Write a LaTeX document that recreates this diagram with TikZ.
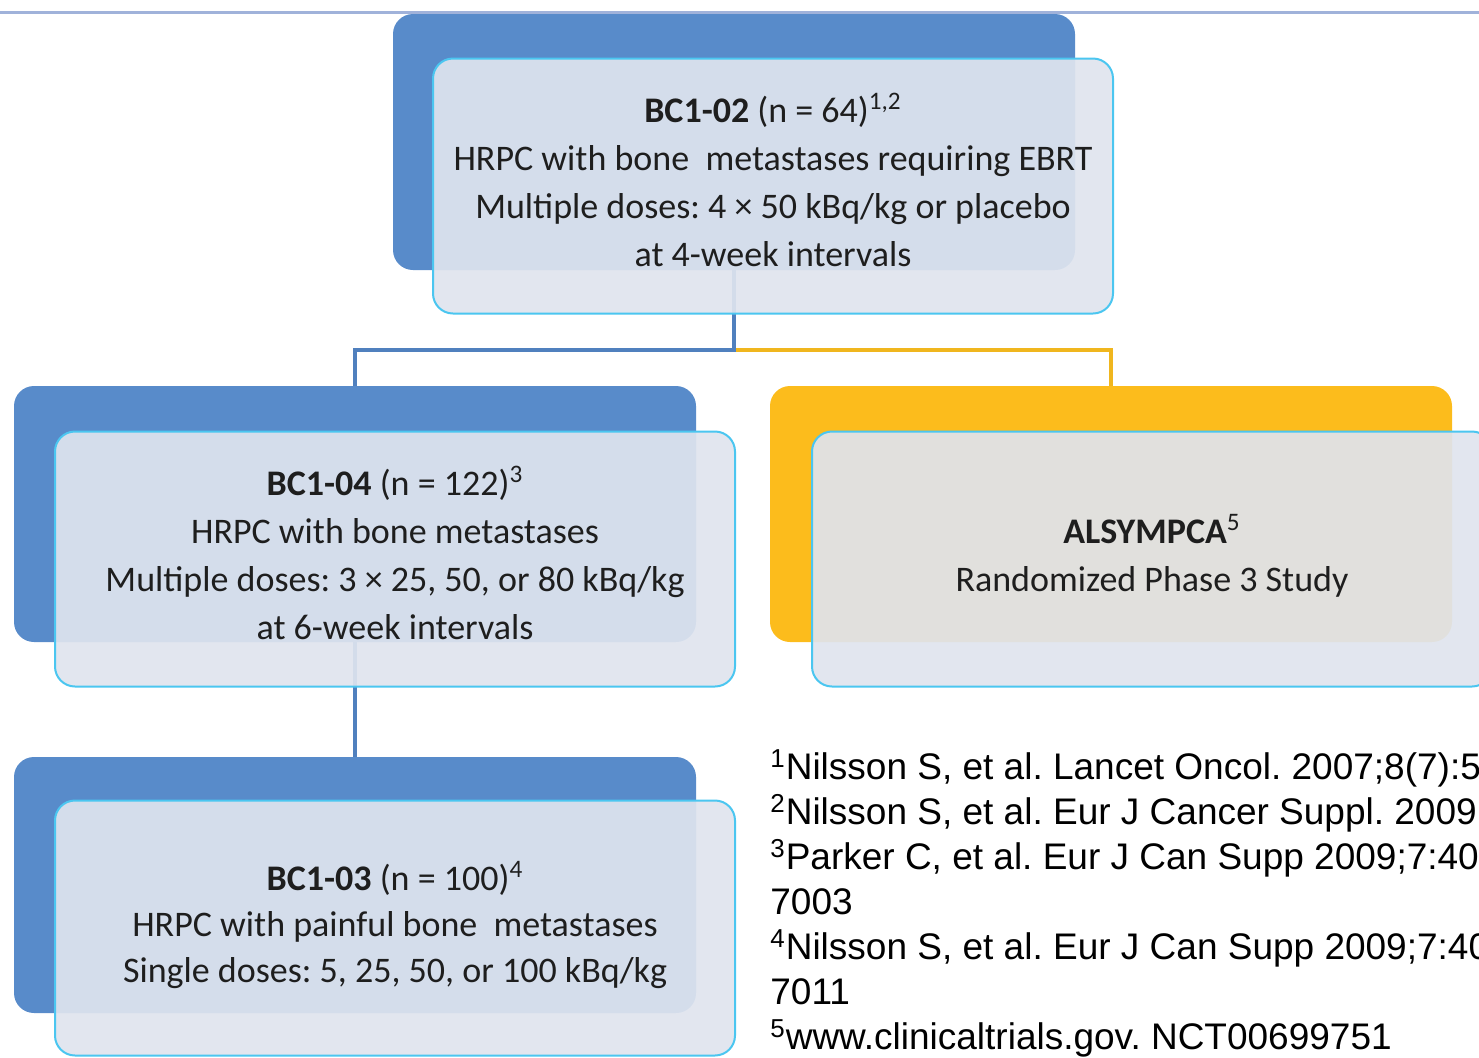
\documentclass[tikz,border=0pt]{standalone}
\usepackage{fontspec}
\setmainfont{Carlito}
\newfontfamily\reffont{Liberation Sans}
\usetikzlibrary{positioning}
\frenchspacing
\definecolor{backblue}{RGB}{88,139,202}
\definecolor{backorange}{RGB}{252,188,28}
\definecolor{frontfill}{RGB}{223,228,238}
\definecolor{frontdraw}{RGB}{75,198,240}
\definecolor{linkblue}{RGB}{80,128,190}
\definecolor{linkorange}{RGB}{240,182,30}
\definecolor{topline}{RGB}{160,178,218}
\definecolor{boxtext}{RGB}{30,30,30}
\tikzset{
    backbox/.style={rectangle, rounded corners=10pt, minimum width=341pt, minimum height=128pt, inner sep=0pt},
    blueback/.style={backbox, fill=backblue},
    orangeback/.style={backbox, fill=backorange},
    frontbox/.style={rectangle, rounded corners=10pt, minimum width=340pt, minimum height=127.5pt, draw=frontdraw, line width=1pt, fill=frontfill, fill opacity=0.92, text opacity=1, text=boxtext, align=center, font=\fontsize{18}{24}\selectfont, execute at end node={\rule[-6pt]{0pt}{6pt}}},
    link/.style={line width=2pt},
}

\begin{document}
\begin{tikzpicture}[x=0.5pt, y=-0.5pt]

    \useasboundingbox (0,0) rectangle (1479,1057);
    \clip (0,0) rectangle (1479,1057);

    % rule at the top
    \coordinate (ruleleft) at (0,12.5);
    \coordinate (ruleright) at (1479,12.5);
    \draw[topline, line width=1.5pt] (ruleleft) -- (ruleright);

    % back boxes
    \node[blueback] (bc02back) at (734,142) {};
    \node[blueback] (bc04back) at (355,514) {};
    \node[orangeback] (alsback) at (1111,514) {};
    \node[blueback] (bc03back) at (355,885) {};

    % links
    \coordinate (fork) at ([yshift=-40pt]bc02back.south);
    \draw[link, linkblue] (bc02back.south) -- (fork) -| (bc04back.north);
    \draw[link, linkorange] ([xshift=1pt]fork) -| (alsback.north);
    \draw[link, linkblue] (bc04back.south) -- (bc03back.north);

    % front boxes
    \node[frontbox] (bc02) at ([shift={(39,44)}]bc02back.center)
        {\textbf{BC1-02} (n = 64)\textsuperscript{1,2}\\
         HRPC with bone\ \ metastases requiring EBRT\\
         Multiple doses: 4 × 50 kBq/kg or placebo\\
         at 4-week intervals};
    \node[frontbox] (bc04) at ([shift={(40,45)}]bc04back.center)
        {\textbf{BC1-04} (n = 122)\textsuperscript{3}\\
         HRPC with bone metastases\\
         Multiple doses: 3 × 25, 50, or 80 kBq/kg\\
         at 6-week intervals};
    \node[frontbox] (als) at ([shift={(41,45)}]alsback.center)
        {\textbf{ALSYMPCA}\textsuperscript{5}\\
         Randomized Phase 3 Study};
    \node[frontbox, font=\fontsize{18}{23}\selectfont] (bc03) at ([shift={(40,43)}]bc03back.center)
        {\textbf{BC1-03} (n = 100)\textsuperscript{4}\\
         HRPC with painful bone\ \ metastases\\
         Single doses: 5, 25, 50, or 100 kBq/kg};

    % references
    \node[anchor=north west, inner sep=0pt, align=left, font=\reffont\fontsize{18.5}{22.5}\selectfont] (refs) at (770,749)
        {\textsuperscript{1}Nilsson S, et al. Lancet Oncol. 2007;8(7):5\\
         \textsuperscript{2}Nilsson S, et al. Eur J Cancer Suppl. 2009\\
         \textsuperscript{3}Parker C, et al. Eur J Can Supp 2009;7:40\\
         7003\\
         \textsuperscript{4}Nilsson S, et al. Eur J Can Supp 2009;7:40\\
         7011\\
         \textsuperscript{5}www.clinicaltrials.gov. NCT00699751};

\end{tikzpicture}
\end{document}
